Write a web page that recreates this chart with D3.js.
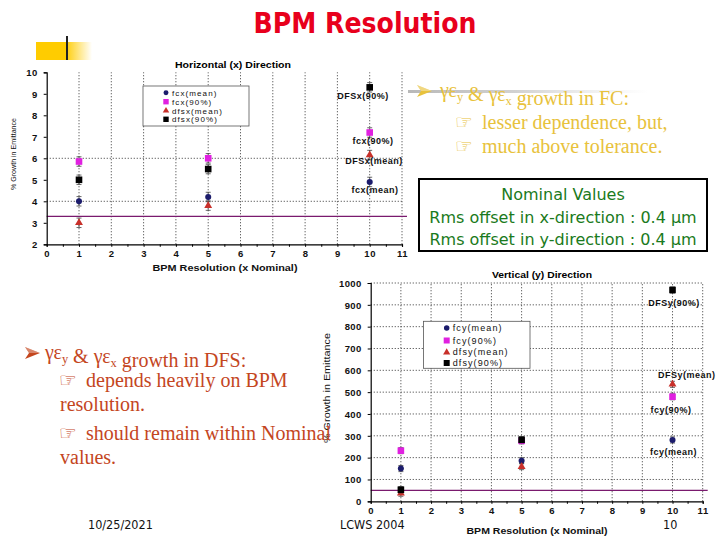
<!DOCTYPE html>
<html><head><meta charset="utf-8">
<script src="https://cdn.jsdelivr.net/npm/d3@7"></script>
<style>body{margin:0;background:#fff}svg{display:block}</style>
</head><body><svg id="c" width="720" height="540"></svg>
<script>
// ---------- data ----------
const resolutions = [1, 5, 10];
const xTicks = [0,1,2,3,4,5,6,7,8,9,10,11];
// Horizontal (x) direction, % growth in emittance
const fcxMean  = [4.0, 4.2, 4.9];
const fcx90    = [5.85, 6.0, 7.2];
const dfsxMean = [3.0, 3.8, 6.15];
const dfsx90   = [5.0, 5.5, 9.3];
const xNominal = 3.3;
const topYTicks = [2,3,4,5,6,7,8,9,10];
// Vertical (y) direction
const fcyMean  = [150, 186, 281];
const fcy90    = [232, 277, 479];
const dfsyMean = [37, 159, 536];
const dfsy90   = [53, 282, 968];
const yNominal = 50;
const botYTicks = [0,100,200,300,400,500,600,700,800,900,1000];
const topLegend = ["fcx(mean)","fcx(90%)","dfsx(mean)","dfsx(90%)"];
const botLegend = ["fcy(mean)","fcy(90%)","dfsy(mean)","dfsy(90%)"];
const topAnnot = ["fcx(mean)","fcx(90%)","DFSx(mean)","DFSx(90%)"];
const botAnnot = ["fcy(mean)","fcy(90%)","DFSy(mean)","DFSy(90%)"];

const svg = d3.select("#c");
svg.append("rect").attr("width",720).attr("height",540).attr("fill","#fff");

const defs = svg.append("defs");
const g1 = defs.append("linearGradient").attr("id","fade");
g1.append("stop").attr("offset","0").attr("stop-color","#ffcc00").attr("stop-opacity",1);
g1.append("stop").attr("offset","1").attr("stop-color","#ffcc00").attr("stop-opacity",0);
const g2 = defs.append("linearGradient").attr("id","grayfade");
g2.append("stop").attr("offset","0").attr("stop-color","#b8b8b8").attr("stop-opacity",1);
g2.append("stop").attr("offset","0.45").attr("stop-color","#cccccc").attr("stop-opacity",0.9);
g2.append("stop").attr("offset","1").attr("stop-color","#dddddd").attr("stop-opacity",0);

// header
svg.append("rect").attr("x",36).attr("y",42).attr("width",30).attr("height",18).attr("fill","#ffcc00");
svg.append("rect").attr("x",65).attr("y",42).attr("width",27).attr("height",18).attr("fill","url(#fade)");
svg.append("line").attr("x1",67).attr("x2",67).attr("y1",36).attr("y2",60).attr("stroke","#222").attr("stroke-width",2);
svg.append("text").attr("x",365).attr("y",33).attr("text-anchor","middle")
  .attr("font-family","'DejaVu Sans Condensed','Liberation Sans',sans-serif").attr("font-weight","bold")
  .attr("font-size",28).attr("fill","#e8001c").text("BPM Resolution");

const colors = ["#1c1c6c","#e020e0","#c8302a","#000000"];
const F = "'Liberation Sans',Arial,sans-serif";

function marker(g, k, x, y, s) {
  if (k===0) g.append("circle").attr("cx",x).attr("cy",y).attr("r",s*0.55).attr("fill",colors[0]);
  else if (k===1||k===3) g.append("rect").attr("x",x-s*0.6).attr("y",y-s*0.6).attr("width",s*1.2).attr("height",s*1.2).attr("fill",colors[k]);
  else g.append("path").attr("d",d3.symbol(d3.symbolTriangle, s*s*0.9)()).attr("transform",`translate(${x},${y})`).attr("fill",colors[2]);
}

function chart(o) {
  const x = d3.scaleLinear().domain([0,11]).range(o.xr);
  const y = d3.scaleLinear().domain(o.yd).range(o.yr);
  const g = svg.append("g");
  // grid
  g.selectAll(".vg").data(xTicks.slice(1)).join("line")
    .attr("x1",d=>x(d)).attr("x2",d=>x(d)).attr("y1",y(o.yd[0])).attr("y2",y(o.yd[1]))
    .attr("stroke","#444").attr("stroke-width",0.9).attr("stroke-dasharray","1.2,1.8");
  g.selectAll(".hg").data(o.hgrid).join("line")
    .attr("x1",x(0)).attr("x2",x(11)).attr("y1",d=>y(d)).attr("y2",d=>y(d))
    .attr("stroke","#444").attr("stroke-width",0.9).attr("stroke-dasharray","1.2,1.8");
  // nominal line
  g.append("line").attr("x1",x(0)).attr("x2",x(11)+5).attr("y1",y(o.nominal)).attr("y2",y(o.nominal))
    .attr("stroke","#7a1a6e").attr("stroke-width",1.2);
  // axes
  const ax = g.append("g").attr("transform",`translate(0,${y(o.yd[0])})`)
    .call(d3.axisBottom(x).tickValues(d3.range(0,11.01,0.5)).tickSize(2.5).tickFormat(d=>Number.isInteger(d)?d:""));
  ax.select(".domain").attr("stroke","#000").attr("stroke-width",1.2);
  ax.selectAll("text").attr("font-family",F).attr("font-weight","bold").attr("font-size",9.5)
    .attr("letter-spacing",0.6).attr("dy",o.xlabDy).attr("fill","#111");
  const ay = g.append("g").attr("transform",`translate(${x(0)},0)`)
    .call(d3.axisLeft(y).tickValues(o.yticks).tickSize(3).tickFormat(d3.format("d")));
  ay.select(".domain").attr("stroke","#000").attr("stroke-width",1.2);
  ay.selectAll("text").attr("font-family",F).attr("font-weight","bold").attr("font-size",9.5)
    .attr("letter-spacing",0.4).attr("dx",o.ylabDx).attr("dy","0.35em").attr("fill","#111");
  // titles (stretched like the raster source)
  g.append("text").attr("x",o.titleX).attr("y",o.titleY).attr("text-anchor","middle")
    .attr("font-family",F).attr("font-weight","bold").attr("font-size",8.5)
    .attr("textLength",o.titleW).attr("lengthAdjust","spacingAndGlyphs").text(o.title);
  g.append("text").attr("x",o.xtX).attr("y",o.xtY).attr("text-anchor","middle")
    .attr("font-family",F).attr("font-weight","bold").attr("font-size",9).attr("fill","#111")
    .attr("textLength",o.xtW).attr("lengthAdjust","spacingAndGlyphs").text("BPM Resolution (x Nominal)");
  g.append("text").attr("transform",`translate(${o.ytX},${o.ytY}) rotate(-90)`).attr("text-anchor","middle")
    .attr("font-family",F).attr("font-size",o.ytFs).attr("fill","#111")
    .attr("textLength",o.ytW).attr("lengthAdjust","spacingAndGlyphs").text("% Growth in Emittance");
  // legend
  const lg = g.append("g");
  lg.append("rect").attr("x",o.leg[0]).attr("y",o.leg[1]).attr("width",o.leg[2]).attr("height",o.leg[3])
    .attr("fill","#fff").attr("stroke","#555").attr("stroke-width",0.8);
  o.legend.forEach((t,i)=>{
    const yy = o.legRows[i];
    marker(lg,i,o.legMx,yy,o.legMs);
    lg.append("text").attr("x",o.legMx+6).attr("y",yy+3).attr("font-family",F)
      .attr("font-size",o.legFs).attr("letter-spacing",1.1).attr("fill","#111").text(t);
  });
  // data
  const series = o.series;
  [1,0,2,3].forEach(k=>{
    series[k].forEach((v,i)=>{
      const cx = x(resolutions[i]), cy = y(v);
      g.append("line").attr("x1",cx).attr("x2",cx).attr("y1",y(v-o.err)).attr("y2",y(v+o.err)).attr("stroke","#444").attr("stroke-width",0.8);
      g.append("line").attr("x1",cx-2.5).attr("x2",cx+2.5).attr("y1",y(v+o.err)).attr("y2",y(v+o.err)).attr("stroke","#444").attr("stroke-width",0.8);
      g.append("line").attr("x1",cx-2.5).attr("x2",cx+2.5).attr("y1",y(v-o.err)).attr("y2",y(v-o.err)).attr("stroke","#444").attr("stroke-width",0.8);
      marker(g,k,cx,cy,o.ms);
    });
  });
  // annotations at last point
  o.annot.forEach((t,k)=>{
    g.append("text").attr("x",o.annX[k]).attr("y",y(series[k][2])+o.annDy[k]).attr("text-anchor","middle")
      .attr("font-family",F).attr("font-weight","bold").attr("font-size",9).attr("letter-spacing",0.5)
      .attr("fill","#111").text(t);
  });
}

chart({xr:[46.7,402], yd:[2,10], yr:[244.3,72.3], hgrid:[4,6], nominal:xNominal, yticks:topYTicks,
  xlabDy:"0.8em", ylabDx:"-3", title:"Horizontal (x) Direction", titleX:233, titleY:68, titleW:116,
  xtX:225, xtY:271, xtW:145, ytX:16, ytY:154, ytW:72, ytFs:8,
  leg:[143,86,106,40], legRows:[92.7,101.7,110.7,119.3], legMx:166, legMs:4.5, legFs:8, legend:topLegend,
  series:[fcxMean,fcx90,dfsxMean,dfsx90], err:0.22, ms:5.5,
  annot:topAnnot, annX:[375,373,374,363], annDy:[11.5,11.5,8.5,12]});

chart({xr:[370.7,702.7], yd:[0,1000], yr:[501.3,283], hgrid:botYTicks.slice(1), nominal:yNominal, yticks:botYTicks,
  xlabDy:"0.8em", ylabDx:"-3", title:"Vertical (y) Direction", titleX:542, titleY:278, titleW:100,
  xtX:537, xtY:534, xtW:141, ytX:330, ytY:388, ytW:110, ytFs:9,
  leg:[423.5,321.3,106.5,47], legRows:[328,340.5,352.3,363], legMx:446.7, legMs:5, legFs:9, legend:botLegend,
  series:[fcyMean,fcy90,dfsyMean,dfsy90], err:14, ms:5.5,
  annot:botAnnot, annX:[673.5,671,686.7,674], annDy:[15.5,16.5,-6,16.5]});

// Nominal values box
svg.append("rect").attr("x",419).attr("y",179).attr("width",288).attr("height",72)
  .attr("fill","#fff").attr("stroke","#000").attr("stroke-width",2);
const nv = ["Nominal Values","Rms offset in x-direction : 0.4 µm","Rms offset in y-direction : 0.4 µm"];
nv.forEach((t,i)=>svg.append("text").attr("x",563).attr("y",200+i*22.5).attr("text-anchor","middle")
  .attr("font-family","'DejaVu Sans',Verdana,sans-serif").attr("font-size",16).attr("fill","#1a7a20").text(t));

// bullet texts
const SERIF = "'Liberation Serif','Times New Roman',serif";
function gline(x, y, color, parts, fs) {
  const t = svg.append("text").attr("x",x).attr("y",y).attr("font-family",SERIF).attr("font-size",fs).attr("fill",color);
  parts.forEach(p=>{
    if (typeof p === "string") t.append("tspan").text(p);
    else t.append("tspan").attr("font-size",fs*0.62).attr("dy",p.dy).text(p.s);
  });
  return t;
}
function glyph(x, y, color, ch, fs) {
  svg.append("text").attr("x",x).attr("y",y).attr("font-family","'DejaVu Sans'").attr("font-size",fs).attr("fill",color).text(ch);
}
function arrowHead(x, y, color) {  // ➢-style bullet, (x,y) = left, vertical middle
  svg.append("path").attr("transform",`translate(${x},${y})`)
    .attr("d","M0,-6 L15,0 L0,6 L4,0 Z").attr("fill",color);
  svg.append("path").attr("transform",`translate(${x},${y})`)
    .attr("d","M0,-6 L15,0 L4,0 Z").attr("fill","#fff").attr("opacity",0.35);
}
svg.append("rect").attr("x",408).attr("y",90).attr("width",240).attr("height",3).attr("fill","url(#grayfade)");
const YEL = "#e8c23c", RED = "#c4461e";
arrowHead(417,91,YEL);
gline(440,97,YEL,["γε",{s:"y",dy:4},{s:"",dy:-4}," & γε",{s:"x",dy:4},{s:"",dy:-4}," growth in FC:"],20);
glyph(455,129,YEL,"☞",20);
gline(482,129,YEL,["lesser dependence, but,"],20);
glyph(455,153,YEL,"☞",20);
gline(482,153,YEL,["much above tolerance."],20);

arrowHead(25,353,RED);
gline(45,359,RED,["γε",{s:"y",dy:4},{s:"",dy:-4}," & γε",{s:"x",dy:4},{s:"",dy:-4}," growth in DFS:"],20);
glyph(59,387,RED,"☞",20);
gline(86,387,RED,["depends heavily on BPM"],20);
gline(60,411,RED,["resolution."],20);
glyph(59,440,RED,"☞",20);
gline(86,440,RED,["should remain within Nominal"],20);
gline(60,464,RED,["values."],20);

// footer
const FS = "'DejaVu Sans Condensed','Liberation Sans',sans-serif";
svg.append("text").attr("x",88).attr("y",529).attr("font-family",FS).attr("font-size",12.5).attr("fill","#111").text("10/25/2021");
svg.append("text").attr("x",340).attr("y",529).attr("font-family",FS).attr("font-size",12.5).attr("fill","#111").text("LCWS 2004");
svg.append("text").attr("x",663).attr("y",529).attr("font-family",FS).attr("font-size",12.5).attr("fill","#111").text("10");
</script></body></html>
